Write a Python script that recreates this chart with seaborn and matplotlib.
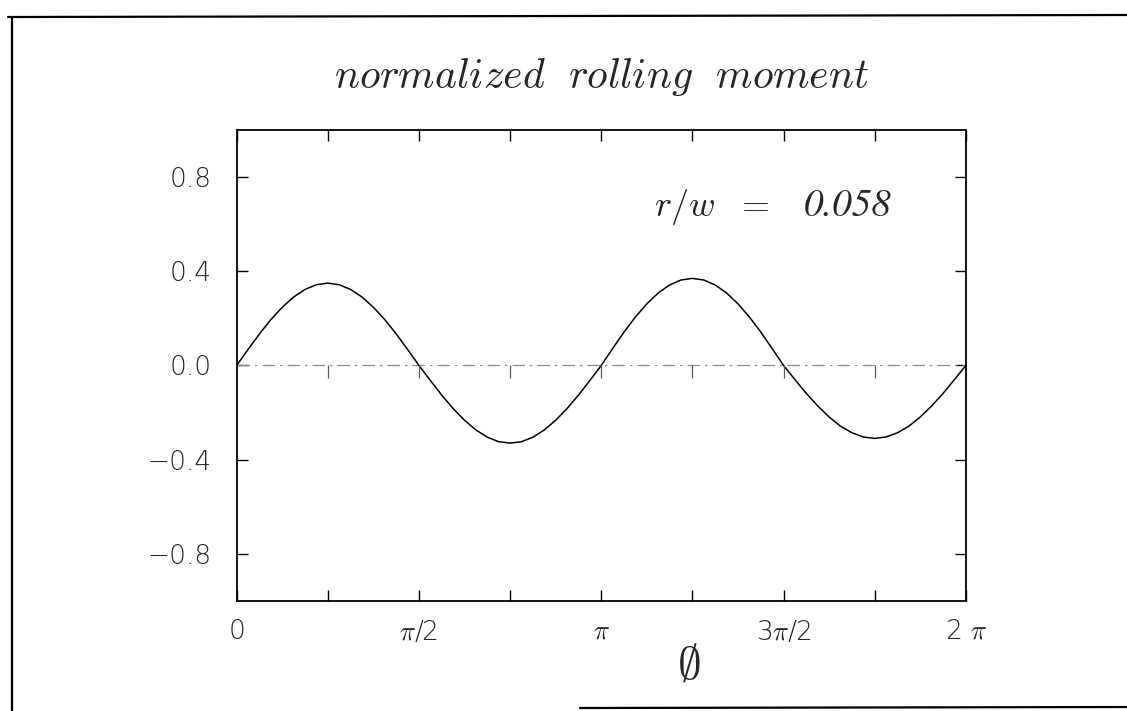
import numpy as np
import matplotlib
matplotlib.use("Agg")
import matplotlib.pyplot as plt
import seaborn as sns
from matplotlib.lines import Line2D

# rolling moment, one value every pi/32
moment = [0.000, 0.068, 0.134, 0.195, 0.247, 0.291, 0.323, 0.343, 0.350,
          0.343, 0.323, 0.291, 0.247, 0.195, 0.134, 0.068, 0.000,
          -0.064, -0.126, -0.183, -0.233, -0.274, -0.305, -0.324, -0.330,
          -0.324, -0.305, -0.274, -0.233, -0.183, -0.126, -0.064, 0.000,
          0.072, 0.142, 0.206, 0.262, 0.308, 0.342, 0.363, 0.370,
          0.363, 0.342, 0.308, 0.262, 0.206, 0.142, 0.072, 0.000,
          -0.060, -0.119, -0.172, -0.219, -0.258, -0.286, -0.304, -0.310,
          -0.304, -0.286, -0.258, -0.219, -0.172, -0.119, -0.060, 0.000]
phi = np.arange(len(moment)) * np.pi / 32

xtick_pos = [0, np.pi / 2, np.pi, 3 * np.pi / 2, 2 * np.pi]
xtick_labels = ['0', r'$\pi$/2', r'$\pi$', r'3$\pi$/2', r'2 $\pi$']
quarter_pos = [k * np.pi / 4 for k in range(1, 8)]
ytick_pos = [-0.8, -0.4, 0.0, 0.4, 0.8]
ytick_labels = ['\u22120.8', '\u22120.4', '0.0', '0.4', '0.8']

sns.set_style("ticks")
plt.rcParams['font.family'] = ['DejaVu Sans']
plt.rcParams['mathtext.fontset'] = 'cm'
plt.rcParams['xtick.labelsize'] = 19
plt.rcParams['ytick.labelsize'] = 19

fig = plt.figure(figsize=(11.27, 7.11), dpi=100)
ax = fig.add_axes([0.210, 0.155, 0.647, 0.662])

sns.lineplot(x=phi, y=moment, color='black', lw=1.1, ax=ax)

# zero reference line with little hanging ticks
ax.axhline(0, color='0.55', lw=0.9, ls=(0, (10, 4, 2, 4)), zorder=1)
ax.plot(quarter_pos, [0] * len(quarter_pos), ls='none', marker=3,
        ms=9, mew=0.9, color='0.35')

ax.set_xlim(0, 2 * np.pi)
ax.set_ylim(-1, 1)
ax.set_xticks(xtick_pos)
ax.set_xticklabels(xtick_labels)
ax.set_xticks([np.pi / 4, 3 * np.pi / 4, 5 * np.pi / 4, 7 * np.pi / 4], minor=True)
ax.set_yticks(ytick_pos)
ax.set_yticklabels(ytick_labels)
ax.tick_params(axis='both', which='both', direction='in', top=True, right=True,
               length=8, width=1, color='black')
ax.tick_params(axis='x', which='major', labelsize=19, pad=13)
ax.tick_params(axis='y', which='major', labelsize=19, pad=18)
for lab in ax.get_xticklabels() + ax.get_yticklabels():
    lab.set_fontweight('light')
for s in ax.spines.values():
    s.set_linewidth(1.3)
    s.set_color('black')

ax.set_xlabel(r'$\emptyset$', fontsize=34)
ax.xaxis.set_label_coords(0.62, -0.09)
ax.set_ylabel('')
ax.set_title(r'$normalized\ \ rolling\ \ moment$', fontsize=30, pad=30)
ax.text(0.573, 0.837, r'$r/w\ \ =$', transform=ax.transAxes,
        fontsize=26, ha='left', va='center')
ax.text(0.778, 0.837, '0.058', transform=ax.transAxes,
        family='STIXGeneral', style='italic', fontsize=28, ha='left', va='center')

# border of the scanned page
fig.add_artist(Line2D([8 / 1127, 1], [1 - 17 / 711, 1 - 15 / 711], color='black', lw=1.6))
fig.add_artist(Line2D([12 / 1127, 12 / 1127], [1 - 17 / 711, 0], color='black', lw=1.6))
fig.add_artist(Line2D([580 / 1127, 1], [1 - 708 / 711, 1 - 707 / 711], color='black', lw=1.6))

fig.savefig('out.png', dpi=100)
